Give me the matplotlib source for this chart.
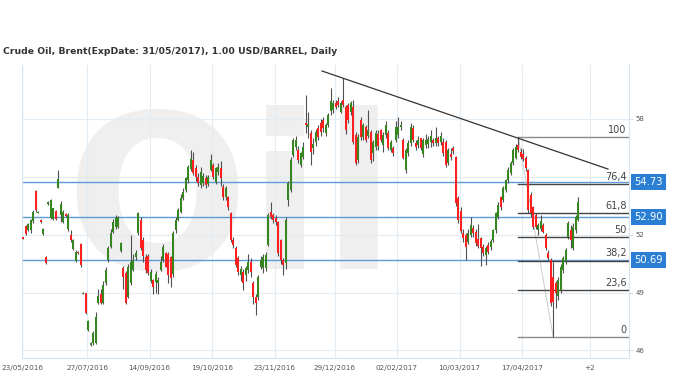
import matplotlib
matplotlib.use("Agg")
import matplotlib.pyplot as plt
import matplotlib.transforms as mtransforms
import numpy as np

# Brent daily candles (USD/bbl)
opens = [
    51.87, 52.45, 52.24, 52.24, 52.71, 54.26, 53.13, 52.76, 52.05, 50.85,
    53.60, 52.86, 52.81, 53.23, 54.42, 53.00, 52.66, 53.05, 52.29, 51.98,
    51.26, 50.64, 51.10, 51.52, 48.94, 48.99, 47.06, 46.30, 46.39, 46.39,
    48.46, 48.93, 48.46, 49.50, 50.69, 51.37, 52.14, 52.40, 52.40, 51.16,
    50.27, 50.01, 48.77, 49.50, 50.17, 50.85, 52.09, 52.76, 51.70, 50.85,
    50.90, 49.60, 49.65, 49.55, 49.50, 50.17, 50.69, 51.05, 51.00, 50.85,
    49.98, 52.24, 52.76, 53.18, 53.90, 54.32, 54.83, 55.40, 55.87, 55.45,
    54.99, 54.57, 54.68, 54.94, 54.60, 55.35, 55.61, 54.73, 55.25, 55.45,
    54.47, 53.95, 53.95, 53.12, 51.73, 51.31, 50.79, 49.90, 50.06, 49.91,
    50.17, 50.58, 49.50, 48.77, 48.77, 50.33, 50.27, 50.27, 51.47, 53.18,
    53.02, 52.86, 52.66, 51.73, 50.69, 50.53, 53.80, 54.32, 56.13, 56.55,
    56.39, 55.61, 56.03, 57.80, 57.60, 57.27, 56.50, 56.80, 57.53, 57.79,
    57.94, 57.27, 57.68, 58.40, 58.46, 58.82, 58.90, 58.36, 58.98, 58.62,
    58.72, 58.36, 58.62, 57.17, 55.87, 57.94, 57.06, 57.58, 57.10, 57.32,
    56.24, 56.55, 57.20, 57.42, 56.65, 57.17, 57.27, 56.39, 56.50, 56.91,
    57.17, 57.58, 56.91, 55.35, 56.24, 56.75, 57.53, 56.75, 56.65, 57.00,
    56.20, 56.65, 56.70, 56.80, 56.91, 56.75, 57.00, 56.80, 56.80, 56.80,
    55.71, 56.20, 56.50, 56.03, 53.90, 53.20, 52.08, 51.98, 51.60, 51.98,
    52.35, 52.14, 51.80, 51.83, 51.36, 50.95, 51.47, 51.36, 51.73, 52.24,
    52.92, 53.95, 53.80, 54.32, 54.83, 55.20, 55.71, 55.97, 56.65, 56.29,
    56.20, 55.97, 55.35, 54.06, 53.44, 53.02, 52.24, 52.30, 52.50, 51.98,
    51.05, 50.69, 49.80, 49.50, 48.83, 49.13, 50.17, 50.64, 51.88, 52.24,
    51.30, 52.24, 52.76,
]
highs = [
    51.90, 52.50, 52.60, 52.80, 53.30, 54.30, 53.25, 52.80, 52.35, 50.90,
    53.75, 53.85, 53.40, 53.30, 55.35, 53.75, 53.30, 53.10, 53.10, 52.25,
    51.80, 51.20, 51.15, 51.55, 49.05, 49.00, 47.60, 46.45, 47.00, 48.00,
    49.20, 49.20, 49.60, 50.30, 51.40, 52.30, 52.80, 53.00, 52.95, 51.60,
    50.40, 50.10, 50.50, 52.00, 51.00, 51.20, 53.20, 52.90, 51.90, 51.00,
    51.00, 50.20, 49.70, 50.10, 49.80, 50.90, 51.50, 51.10, 51.10, 50.90,
    52.20, 52.90, 53.40, 54.10, 54.40, 55.00, 55.60, 56.40, 56.30, 55.60,
    55.20, 55.50, 55.20, 55.10, 55.10, 56.20, 55.70, 55.50, 55.70, 55.80,
    54.60, 54.50, 54.00, 53.20, 51.90, 51.40, 50.90, 50.40, 50.20, 50.40,
    51.00, 50.80, 49.60, 48.90, 49.90, 50.90, 51.00, 51.10, 53.10, 53.70,
    53.10, 53.00, 52.70, 51.80, 50.80, 52.90, 54.80, 56.00, 57.00, 57.10,
    56.60, 56.30, 56.80, 59.24, 58.35, 57.40, 57.00, 57.50, 57.70, 58.00,
    58.10, 57.80, 58.30, 59.60, 59.00, 59.00, 59.14, 58.95, 60.12, 58.70,
    58.80, 58.90, 59.00, 57.30, 57.20, 58.10, 57.80, 57.70, 58.46, 57.40,
    56.90, 57.40, 57.42, 57.50, 57.30, 57.90, 57.40, 56.90, 56.60, 57.90,
    58.10, 57.90, 57.00, 56.50, 56.90, 57.80, 57.70, 56.90, 57.10, 57.00,
    57.00, 57.20, 57.10, 57.42, 57.00, 57.58, 57.10, 57.32, 57.00, 56.90,
    56.50, 56.50, 56.60, 56.10, 54.00, 53.44, 52.30, 52.10, 52.30, 52.92,
    52.50, 52.30, 52.55, 51.90, 51.50, 51.40, 51.60, 51.80, 52.30, 53.20,
    53.70, 54.00, 54.50, 54.90, 55.50, 55.80, 56.50, 56.70, 57.06, 56.50,
    56.45, 56.10, 55.40, 54.20, 53.50, 53.10, 52.60, 53.00, 52.60, 52.10,
    51.20, 50.80, 50.60, 49.60, 49.80, 50.50, 50.90, 51.30, 52.70, 52.50,
    52.60, 53.00, 53.95,
]
lows = [
    51.75, 52.00, 52.20, 52.10, 52.60, 53.20, 53.10, 52.60, 52.00, 50.50,
    53.55, 52.80, 52.75, 52.75, 54.40, 52.66, 52.60, 52.90, 52.20, 51.60,
    51.20, 50.60, 51.00, 50.35, 48.90, 47.90, 47.00, 46.25, 46.30, 46.35,
    48.40, 48.40, 48.40, 49.40, 50.60, 51.30, 52.10, 52.30, 52.35, 51.10,
    49.20, 48.40, 48.70, 49.40, 50.10, 50.70, 52.00, 51.20, 50.60, 50.00,
    49.90, 49.50, 48.95, 49.00, 48.90, 50.10, 50.60, 50.30, 49.50, 49.30,
    49.80, 52.10, 52.70, 53.10, 53.80, 54.20, 54.70, 55.30, 55.10, 54.80,
    54.50, 54.40, 54.50, 54.40, 54.50, 55.30, 54.90, 54.60, 55.10, 54.50,
    53.80, 53.80, 53.30, 51.60, 51.30, 50.30, 49.90, 49.60, 49.13, 49.60,
    50.00, 49.80, 48.40, 47.84, 48.60, 50.20, 50.00, 50.10, 51.40, 52.80,
    52.60, 52.50, 50.90, 50.50, 49.90, 50.20, 53.50, 54.20, 56.00, 56.40,
    55.70, 55.50, 55.90, 57.27, 57.00, 55.60, 56.20, 56.60, 56.90, 57.10,
    57.30, 57.10, 57.60, 58.20, 58.30, 58.50, 58.60, 58.30, 58.60, 57.20,
    57.80, 58.20, 56.70, 55.60, 55.70, 56.90, 56.90, 56.80, 57.00, 55.70,
    55.80, 56.40, 56.39, 56.80, 56.30, 57.00, 56.40, 56.30, 56.10, 56.80,
    57.00, 57.40, 55.90, 55.20, 56.10, 56.60, 56.80, 56.40, 56.50, 56.39,
    56.00, 56.50, 56.50, 56.55, 56.60, 56.60, 56.60, 56.65, 56.10, 55.50,
    55.60, 55.87, 56.20, 53.50, 52.60, 52.08, 51.60, 50.69, 51.50, 51.90,
    51.90, 51.40, 51.30, 50.38, 50.90, 50.43, 51.00, 51.20, 51.60, 52.10,
    52.80, 53.30, 53.70, 54.20, 54.70, 55.10, 55.60, 55.90, 56.30, 55.90,
    55.80, 55.30, 53.10, 52.90, 52.30, 52.30, 52.00, 52.20, 52.08, 51.20,
    50.70, 48.30, 46.70, 48.20, 48.60, 49.00, 50.00, 50.50, 51.80, 51.30,
    51.20, 52.10, 52.70,
]
closes = [
    51.77, 52.03, 52.55, 52.76, 53.18, 53.28, 53.18, 52.66, 52.30, 50.53,
    53.70, 53.80, 53.38, 52.81, 54.89, 53.60, 53.18, 52.95, 53.02, 51.73,
    51.73, 51.10, 51.05, 50.43, 49.00, 47.95, 47.53, 46.40, 46.91, 47.73,
    48.82, 48.46, 49.39, 50.17, 51.31, 52.09, 52.66, 52.86, 52.92, 51.57,
    49.81, 48.46, 50.33, 50.58, 50.69, 51.06, 53.12, 51.31, 50.90, 50.17,
    50.01, 50.06, 49.29, 49.96, 49.65, 50.58, 51.36, 50.33, 49.90, 49.75,
    52.08, 52.76, 53.28, 53.90, 54.20, 54.94, 55.50, 55.90, 55.20, 54.99,
    54.68, 55.25, 55.04, 54.57, 55.00, 55.87, 55.00, 55.45, 55.50, 54.94,
    53.95, 54.42, 53.44, 51.73, 51.47, 50.43, 50.06, 50.20, 49.50, 50.27,
    50.58, 50.06, 48.77, 48.46, 49.80, 50.69, 50.85, 50.95, 53.02, 52.92,
    52.76, 52.66, 51.05, 50.69, 50.43, 52.76, 54.68, 55.87, 56.91, 56.91,
    55.87, 56.24, 56.55, 57.68, 57.75, 56.29, 56.70, 57.32, 57.06, 57.32,
    57.53, 57.68, 58.20, 58.90, 58.82, 58.60, 58.72, 58.82, 58.72, 57.42,
    57.94, 58.82, 56.80, 55.71, 57.06, 57.06, 57.68, 56.91, 57.40, 55.87,
    56.80, 57.27, 56.60, 56.91, 57.17, 57.68, 56.50, 56.80, 56.24, 57.58,
    57.58, 57.68, 55.97, 56.39, 56.75, 57.58, 56.91, 56.55, 56.91, 56.50,
    56.90, 56.91, 56.95, 57.10, 56.75, 57.00, 56.75, 57.10, 56.24, 55.61,
    56.39, 56.00, 56.34, 53.64, 52.76, 52.20, 51.83, 51.36, 52.10, 52.50,
    52.08, 51.57, 51.40, 51.31, 51.05, 51.31, 51.10, 51.67, 52.24, 53.12,
    53.54, 53.44, 54.42, 54.83, 55.35, 55.71, 56.39, 56.55, 56.39, 56.03,
    55.90, 55.45, 53.28, 53.12, 52.40, 52.40, 52.50, 52.70, 52.15, 51.31,
    50.79, 48.46, 48.50, 48.99, 49.65, 50.33, 50.79, 51.21, 52.60, 51.73,
    52.40, 52.92, 53.70,
]

# date labels and the bar each one sits on
tick_bars = [0, 26, 51, 76, 101, 125, 150, 175, 200, 227]
tick_labels = ["23/05/2016", "27/07/2016", "14/09/2016", "19/10/2016", "23/11/2016",
               "29/12/2016", "02/02/2017", "10/03/2017", "17/04/2017", "+2"]
# 55 sits under the 54.73 box in the reference, so it gets no label
price_ticks = [46, 49, 52, 55, 58]
price_labels = ["46", "49", "52", "", "58"]

# horizontal levels with value boxes
levels = [54.73, 52.90, 50.69]

# falling trendline (bar, price) at both ends
trend_bars = [119.5, 233.9]
trend_prices = [60.48, 55.40]

# fibonacci retracement: swing high bar/price, swing low bar/price
fib_high_bar, fib_high = 198, 57.06
fib_low_bar, fib_low = 212, 46.70
fib_pcts = [100, 76.4, 61.8, 50, 38.2, 23.6, 0]

UP = "#35861f"
DOWN = "#ff1f1f"
WICK = "#505050"
GRID = "#e2ecf5"
BOX = "#2a7fd5"

fig = plt.figure(figsize=(6.8, 3.81), dpi=100)
ax = fig.add_axes([22 / 680, 23 / 381, 607 / 680, 293 / 381])

o = np.array(opens)
h = np.array(highs)
l = np.array(lows)
c = np.array(closes)
x = np.arange(len(o))
up = c >= o

# watermark
ax.text(17, 53.3, "Oil", fontsize=155, fontweight="bold", color="#efefef",
        ha="left", va="center", zorder=0)

for xb in tick_bars:
    ax.axvline(xb - 0.5, color=GRID, lw=0.8, zorder=0.5)
for p in price_ticks:
    ax.axhline(p, color=GRID, lw=0.8, zorder=0.5)

ax.vlines(x, l, h, color=WICK, lw=0.8, zorder=2)
body_lo = np.minimum(o, c)
body_h = np.maximum(np.abs(c - o), 0.06)
ax.bar(x[up], body_h[up], bottom=body_lo[up], width=0.78, color=UP, zorder=3)
ax.bar(x[~up], body_h[~up], bottom=body_lo[~up], width=0.78, color=DOWN, zorder=3)

ax.plot(trend_bars, trend_prices, color="#333333", lw=0.9, zorder=4)

# blue horizontal levels + value boxes on the right
trans = mtransforms.blended_transform_factory(ax.transAxes, ax.transData)
for lv in levels:
    ax.axhline(lv, color="#5b9bd8", lw=1.0, zorder=1.5)
    ax.text(1.008, lv, f"{lv:.2f}", transform=trans, ha="left", va="center",
            color="white", fontsize=7.2, zorder=6, clip_on=False,
            bbox=dict(boxstyle="square,pad=0.32", fc=BOX, ec="none"))

# fibonacci levels
xmax = 242.3
ax.plot([fib_high_bar, fib_low_bar], [fib_high, fib_low], color="#cccccc", lw=0.7, zorder=1.8)
for pct in fib_pcts:
    lvl = fib_low + (fib_high - fib_low) * pct / 100
    col = "#8a8a8a" if pct in (0, 100) else "#444444"
    ax.plot([fib_high_bar, xmax], [lvl, lvl], color=col, lw=1.0, zorder=1.9)
    lab = f"{pct:g}".replace(".", ",")
    ax.annotate(lab, (0.996, lvl), xycoords=trans, xytext=(0, 1.5), textcoords="offset points",
                ha="right", va="bottom", fontsize=7, color="#444444", zorder=5)

ax.set_xlim(-0.5, xmax)
ax.set_ylim(45.61, 60.79)
ax.set_xticks([b - 0.5 for b in tick_bars])
ax.set_xticklabels(tick_labels)
ax.set_yticks(price_ticks)
ax.set_yticklabels(price_labels)
ax.yaxis.tick_right()
ax.tick_params(axis="x", length=0, pad=5, labelsize=5.2, labelcolor="#555555")
ax.tick_params(axis="y", length=3, width=0.6, color="#c8d8e8", pad=2, labelsize=5,
               labelcolor="#555555")
ax.spines["top"].set_visible(False)
for side in ("left", "right", "bottom"):
    ax.spines[side].set_color("#d5e3ef")
    ax.spines[side].set_linewidth(0.8)

fig.text(3 / 680, 1 - 52 / 381, "Crude Oil, Brent(ExpDate: 31/05/2017), 1.00 USD/BARREL, Daily",
         fontsize=6.7, fontweight="bold", color="#333333", va="center", ha="left")

fig.savefig("out.png", dpi=100)
